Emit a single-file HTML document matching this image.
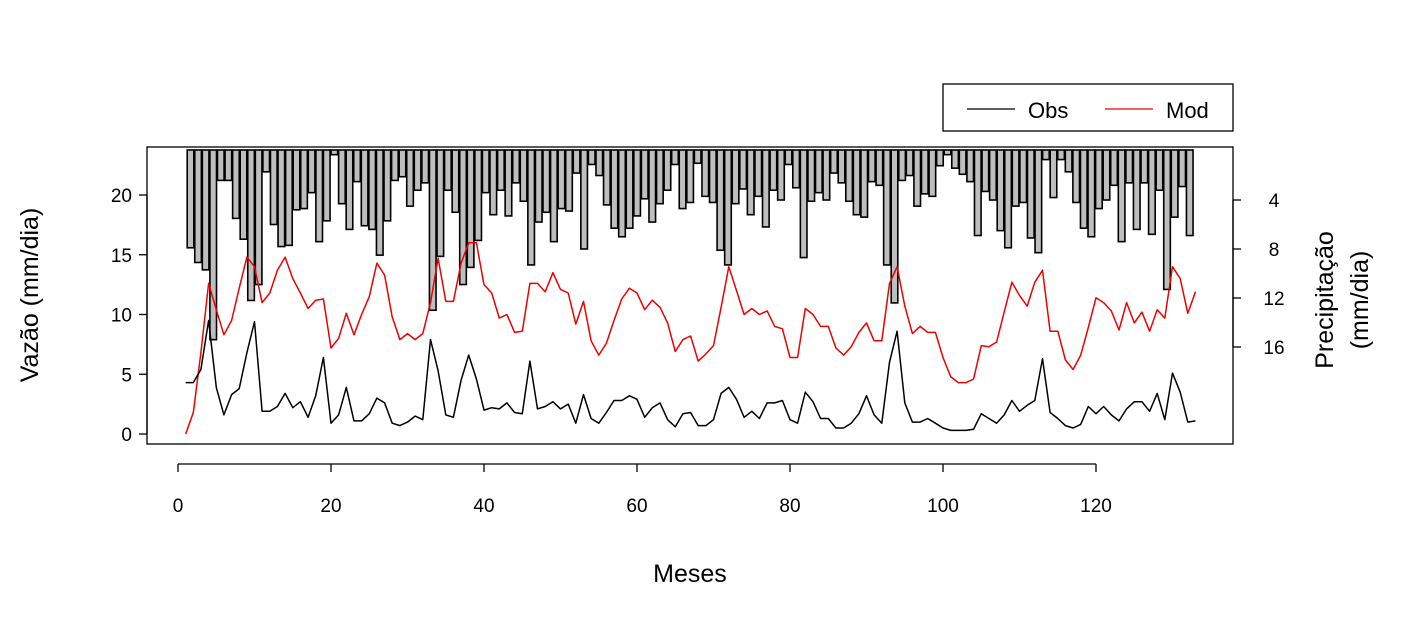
<!DOCTYPE html>
<html><head><meta charset="utf-8"><style>
body{margin:0;background:#fff;}
svg{display:block;font-family:"Liberation Sans",Arial,sans-serif;}
</style></head><body>
<svg id="chart" width="1417" height="629" viewBox="0 0 1417 629">
<g id="bars"></g>
<g id="lines"></g>
<g id="axes"></g>
<rect x="147" y="147" width="1086" height="297" fill="none" stroke="#000" stroke-width="1.3"/>
<text x="690" y="582" font-size="25" text-anchor="middle">Meses</text>
<text transform="translate(38,295) rotate(-90)" font-size="25" text-anchor="middle">Vazão (mm/dia)</text>
<text transform="translate(1333,300) rotate(-90)" font-size="25" text-anchor="middle">Precipitação</text>
<text transform="translate(1368,300) rotate(-90)" font-size="25" text-anchor="middle">(mm/dia)</text>
<g>
<rect x="943" y="84" width="290" height="47" fill="#fff" stroke="#000" stroke-width="1.3"/>
<line x1="967" y1="109" x2="1015" y2="109" stroke="#000" stroke-width="1.3"/>
<text x="1028" y="118" font-size="22">Obs</text>
<line x1="1105" y1="109" x2="1153" y2="109" stroke="#e00" stroke-width="1.3"/>
<text x="1166" y="118" font-size="22">Mod</text>
</g>
</svg>
<script>
const obs=[4.3,4.3,5.4,9.5,3.9,1.6,3.3,3.8,6.8,9.4,1.9,1.9,2.3,3.4,2.2,2.7,1.4,3.2,6.4,0.9,1.6,3.9,1.1,1.1,1.7,3.0,2.6,0.9,0.7,1.0,1.5,1.2,7.9,5.3,1.6,1.4,4.5,6.6,4.6,2.0,2.2,2.1,2.6,1.8,1.7,6.1,2.1,2.3,2.7,2.1,2.5,0.9,3.3,1.3,0.9,1.8,2.8,2.8,3.2,2.9,1.4,2.2,2.6,1.2,0.6,1.7,1.8,0.7,0.7,1.2,3.4,3.9,2.9,1.4,1.9,1.3,2.6,2.6,2.8,1.2,0.9,3.5,2.7,1.3,1.3,0.5,0.5,0.9,1.7,3.2,1.6,0.9,6.0,8.6,2.6,1.0,1.0,1.3,0.9,0.5,0.3,0.3,0.3,0.4,1.7,1.3,0.9,1.6,2.8,1.9,2.4,2.8,6.3,1.8,1.3,0.7,0.5,0.8,2.3,1.7,2.3,1.6,1.1,2.1,2.7,2.7,1.9,3.4,1.2,5.1,3.5,1.0,1.1];
const mod=[0,1.8,6.8,12.6,10.4,8.3,9.5,12.2,14.8,14.0,11.0,11.8,13.7,14.8,13.0,11.8,10.5,11.2,11.3,7.2,8.0,10.1,8.3,10.0,11.5,14.3,13.3,9.8,7.9,8.4,7.9,8.4,11.0,14.7,11.1,11.1,14.3,16.0,16.0,12.5,11.8,9.7,10.0,8.5,8.6,12.6,12.6,11.9,13.5,12.1,11.8,9.2,11.1,7.8,6.6,7.6,9.5,11.3,12.2,11.8,10.4,11.2,10.6,9.3,6.9,7.9,8.2,6.1,6.7,7.4,10.6,14.0,12.0,10.0,10.5,10.0,10.3,9.0,8.8,6.4,6.4,10.5,10.0,9.0,9.0,7.2,6.6,7.3,8.5,9.3,7.8,7.8,12.6,14.0,10.7,8.4,9.0,8.5,8.5,6.4,4.8,4.3,4.3,4.6,7.4,7.3,7.7,10.2,12.7,11.6,10.7,12.7,13.7,8.6,8.6,6.2,5.4,6.6,8.9,11.4,11.0,10.3,8.7,11.0,9.3,10.2,8.6,10.4,9.7,14.0,13.0,10.1,11.9];
const precip=[7.9,9.1,9.7,15.4,2.4,2.4,5.5,7.2,12.2,10.9,1.7,6.0,7.8,7.7,4.8,4.7,3.4,7.4,5.7,0.3,4.3,6.4,2.5,6.1,6.4,8.5,5.7,2.4,2.1,4.5,3.2,2.6,13.0,8.6,3.2,5.0,10.9,9.5,7.3,3.4,5.2,3.2,5.3,2.6,4.1,9.3,5.8,5.0,7.4,4.7,4.9,1.8,8.0,1.1,2.0,4.4,6.3,7.0,6.3,5.3,3.9,5.8,4.3,3.2,1.1,4.7,4.2,1.0,3.7,4.2,8.1,9.3,4.3,3.1,5.2,3.7,6.2,3.2,4.0,1.1,3.0,8.7,4.1,3.4,4.0,1.8,2.6,4.1,5.2,5.4,2.5,2.8,9.3,12.4,2.4,2.0,4.5,3.5,3.7,1.2,0.3,1.4,1.9,2.5,6.9,3.3,4.0,6.5,7.9,4.5,4.2,7.1,8.3,0.7,3.8,0.7,1.7,4.2,6.3,7.0,4.7,4.0,2.8,7.4,2.6,6.4,2.6,6.8,3.2,11.3,5.4,2.9,6.9];
const xTicks=[0,20,40,60,80,100,120];
const yTicks=[0,5,10,15,20];
const pTicks=[4,8,12,16];

const NS='http://www.w3.org/2000/svg';
const xs=v=>178+v*7.65;
const ys=v=>434-v*11.95;
const bx=k=>190.5+(k-1)*7.57;
const ps=v=>151+v*12.25;
function mk(tag,attrs,parent){const e=document.createElementNS(NS,tag);for(const k in attrs)e.setAttribute(k,attrs[k]);parent.appendChild(e);return e;}
const gb=document.getElementById('bars'),gl=document.getElementById('lines'),ga=document.getElementById('axes');
precip.forEach((v,i)=>{
 const r=mk('rect',{x:bx(i+1)-3.3,y:ps(0)-1,width:6.6,height:ps(v)-ps(0)+1,fill:'#bebebe',stroke:'#000','stroke-width':1.6},gb);
 
 
});
function line(arr,color,name){
 const p=mk('polyline',{points:arr.map((v,i)=>xs(i+1).toFixed(1)+','+ys(v).toFixed(1)).join(' '),fill:'none',stroke:color,'stroke-width':1.5,'stroke-linejoin':'round'},gl);
 
 
}
line(mod,'#e00','mod-line');
line(obs,'#000','obs-line');
// x axis
const xa=mk('line',{x1:xs(0),y1:464,x2:xs(120),y2:464,stroke:'#000','stroke-width':1.3},ga);


xTicks.forEach(t=>{
 const l=mk('line',{x1:xs(t),y1:464,x2:xs(t),y2:472,stroke:'#000','stroke-width':1.3},ga);
 
 
 const tx=mk('text',{x:xs(t),y:512,'font-size':19,'text-anchor':'middle'},ga);tx.textContent=t;
 
 
});
const ya=mk('line',{x1:147,y1:ys(0),x2:147,y2:ys(20),stroke:'#000','stroke-width':1.3},ga);


yTicks.forEach(t=>{
 const l=mk('line',{x1:139,y1:ys(t),x2:147,y2:ys(t),stroke:'#000','stroke-width':1.3},ga);
 
 
 const tx=mk('text',{x:132,y:ys(t)+7,'font-size':19,'text-anchor':'end'},ga);tx.textContent=t;
 
 
});
const pa=mk('line',{x1:1233,y1:ps(4),x2:1233,y2:ps(16),stroke:'#000','stroke-width':1.3},ga);


pTicks.forEach(t=>{
 const l=mk('line',{x1:1233,y1:ps(t),x2:1241,y2:ps(t),stroke:'#000','stroke-width':1.3},ga);
 
 
 const tx=mk('text',{x:1274,y:ps(t)+7,'font-size':19,'text-anchor':'middle'},ga);tx.textContent=t;
 
 
});
</script>
</body></html>
